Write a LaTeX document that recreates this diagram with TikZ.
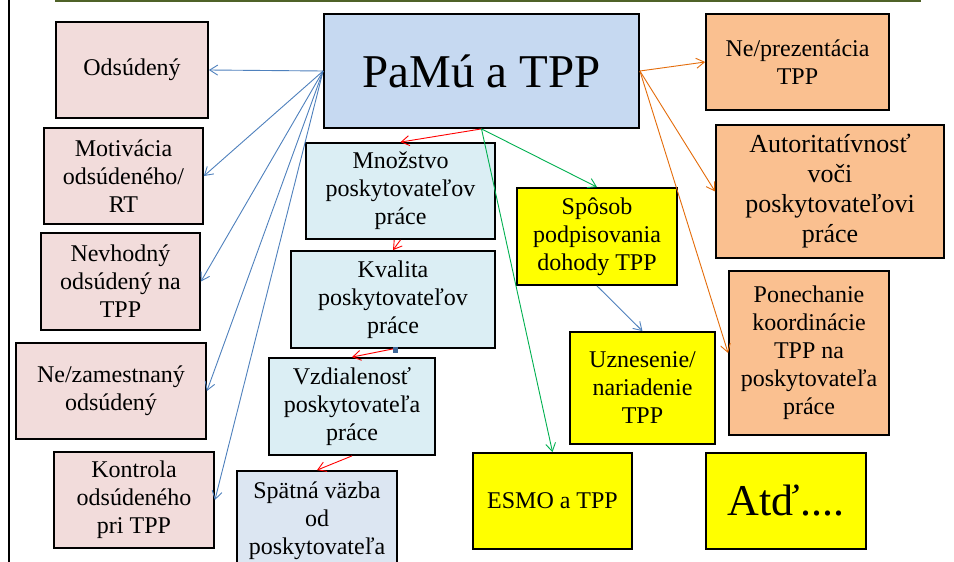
\documentclass[tikz,border=0pt]{standalone}
\usepackage{fontspec}
\setmainfont{Liberation Serif}
\usetikzlibrary{arrows.meta}
\definecolor{pinkf}{HTML}{F2DCDB}
\definecolor{bluef}{HTML}{C6D9F1}
\definecolor{cyanf}{HTML}{DBEEF4}
\definecolor{grayf}{HTML}{DCE6F2}
\definecolor{yellowf}{HTML}{FFFF00}
\definecolor{orangef}{HTML}{FAC090}
\definecolor{bluel}{HTML}{4F81BD}
\definecolor{redl}{HTML}{FF0000}
\definecolor{greenl}{HTML}{00B050}
\definecolor{orangel}{HTML}{E46C0A}
\definecolor{olivel}{HTML}{4F6228}
\tikzset{
  box/.style={draw=black, line width=1.8pt, align=center, inner sep=2pt,
    font=\fontsize{24}{28}\selectfont},
  pinkbox/.style={box, fill=pinkf},
  cyanbox/.style={box, fill=cyanf},
  yellowbox/.style={box, fill=yellowf},
  orangebox/.style={box, fill=orangef},
  conn/.style={line width=0.9pt, -{Straight Barb[length=8pt,width=10pt]}},
  bconn/.style={conn, draw=bluel},
  rconn/.style={conn, draw=redl},
  gconn/.style={conn, draw=greenl},
  oconn/.style={conn, draw=orangel},
}
\begin{document}
\begin{tikzpicture}[x=1pt, y=-1pt]
\clip (0,0) rectangle (954,562);
\fill[white] (0,0) rectangle (954,562);
\draw[olivel, line width=2pt] (55,0.5) -- (921,0.5);
\draw[black, line width=2.4pt] (8.7,0) -- (8.7,562);

% left pink boxes
\node[pinkbox, minimum width=152pt, minimum height=96pt] (ods) at (132,70) {Odsúdený};
\node[pinkbox, minimum width=159pt, minimum height=96pt] (mot) at (123.5,176) {Motivácia\\odsúdeného/\\RT};
\node[pinkbox, minimum width=159pt, minimum height=97pt] (nev) at (120.5,281.5) {Nevhodný\\odsúdený na\\TPP};
\node[pinkbox, minimum width=190pt, minimum height=96pt] (nez) at (111,391) {Ne/zamestnaný\\odsúdený};
\node[pinkbox, minimum width=160pt, minimum height=96pt] (kon) at (134,500) {Kontrola\\odsúdeného\\pri TPP};

% central
\node[box, fill=bluef, minimum width=315pt, minimum height=114pt, font=\fontsize{47}{52}\selectfont] (pamu) at (481.5,71) {PaMú a TPP};

% middle column
\node[cyanbox, minimum width=189pt, minimum height=96pt] (mno) at (400.5,191) {Množstvo\\poskytovateľov\\práce};
\node[cyanbox, minimum width=204pt, minimum height=97pt] (kva) at (393,299.5) {Kvalita\\poskytovateľov\\práce};
\node[cyanbox, minimum width=166pt, minimum height=97pt] (vzd) at (352,406.5) {Vzdialenosť\\poskytovateľa\\práce};
\node[box, fill=grayf, minimum width=160pt, minimum height=128pt] (spa) at (317,535) {Spätná väzba\\od\\poskytovateľa\\práce};

% yellow
\node[yellowbox, minimum width=160pt, minimum height=97pt] (spo) at (597,236.5) {Spôsob\\podpisovania\\dohody TPP};
\node[yellowbox, minimum width=145pt, minimum height=112pt] (uzn) at (642.5,388) {Uznesenie/\\nariadenie\\TPP};
\node[yellowbox, minimum width=159pt, minimum height=96pt] (esmo) at (552.5,501) {ESMO a TPP};
\node[yellowbox, minimum width=160pt, minimum height=96pt, font=\fontsize{44}{48}\selectfont] (atd) at (786,501) {Atď....};

% orange
\node[orangebox, minimum width=183pt, minimum height=96pt] (nep) at (797.5,62) {Ne/prezentácia\\TPP};
\node[orangebox, minimum width=228pt, minimum height=133pt, font=\fontsize{26}{30}\selectfont] (aut) at (830,191.5) {Autoritatívnosť\\voči\\poskytovateľovi\\práce};
\node[orangebox, minimum width=160pt, minimum height=164pt] (pon) at (809,353) {Ponechanie\\koordinácie\\TPP na\\poskytovateľa\\práce};

% blue connectors
\draw[bconn] (pamu.west) -- (ods.east);
\draw[bconn] (pamu.west) -- (mot.east);
\draw[bconn] (pamu.west) -- (nev.east);
\draw[bconn] (pamu.west) -- (nez.east);
\draw[bconn] (pamu.west) -- (kon.east);
\draw[bconn] (spo.south) -- (uzn.north);

% red
\draw[rconn] (pamu.south) -- (mno.north);
\draw[rconn] (mno.south) -- (kva.north);
\draw[rconn] (kva.south) -- (vzd.north);
\draw[rconn] (vzd.south) -- (spa.north);

% green
\draw[gconn] (pamu.south) -- (spo.north);
\draw[gconn] (pamu.south) -- (esmo.north);

% orange
\draw[oconn] (pamu.east) -- (nep.west);
\draw[oconn] (pamu.east) -- (aut.west);
\draw[oconn] (pamu.east) -- (pon.west);

% small handle square
\fill[bluel!80!black] (393,347) rectangle (398,353);
\end{tikzpicture}
\end{document}
